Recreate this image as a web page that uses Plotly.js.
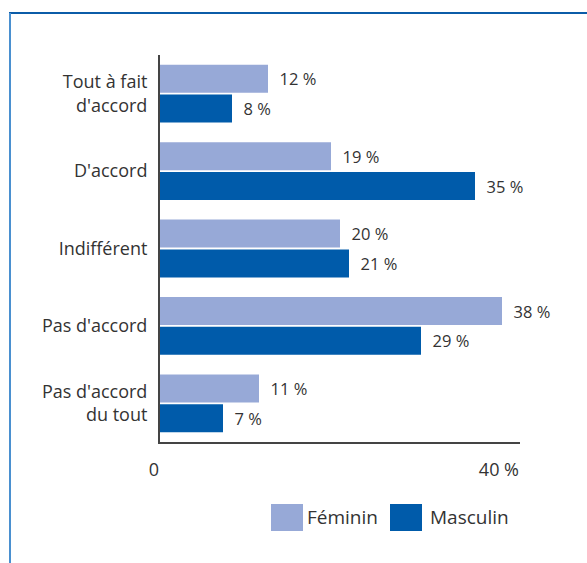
<!DOCTYPE html>
<html><head><meta charset="utf-8">
<script src="https://cdn.plot.ly/plotly-3.0.1.min.js"></script>
<style>html,body{margin:0;padding:0;background:#fff;}</style>
</head><body><div id="chart" style="width:587px;height:563px;"></div>
<script>
const categories = ["Tout à fait<br>d'accord", "D'accord", "Indifférent", "Pas d'accord", "Pas d'accord<br>du tout"];
const seriesNames = ["Féminin", "Masculin"];
const feminin = [12, 19, 20, 38, 11];
const masculin = [8, 35, 21, 29, 7];
const tickVals = [0, 40];
const tickText = ["0", "40 %"];

const colors = ["#97A9D7", "#005BAA"];
const FONT = "Open Sans, sans-serif";
const TXT = "#333333";
const W = 587, H = 563;
const M = {l: 160, r: 67, t: 55, b: 121};
const PW = W - M.l - M.r, PH = H - M.t - M.b;
const px = p => (p - M.l) / PW;
const py = p => (H - M.b - p) / PH;

const mk = (vals, i) => ({
  type: 'bar', orientation: 'h', name: seriesNames[i],
  y: categories, x: vals,
  marker: {color: colors[i], line: {width: 0}},
  text: vals.map(v => '\u00a0\u00a0' + v + ' %'),
  textposition: 'outside', cliponaxis: false,
  textfont: {family: FONT, size: 16.5, color: TXT},
  hoverinfo: 'none'
});

const data = [mk(feminin, 0), mk(masculin, 1)];

const shapes = [
  {type: 'line', xref: 'paper', yref: 'paper', x0: px(9), x1: px(600), y0: py(13), y1: py(13), line: {color: '#0B5CA8', width: 2}},
  {type: 'line', xref: 'paper', yref: 'paper', x0: px(10), x1: px(10), y0: py(13), y1: py(600), line: {color: '#4A90D0', width: 2}},
  {type: 'rect', xref: 'paper', yref: 'paper', x0: px(271), x1: px(303), y0: py(504), y1: py(531), fillcolor: colors[0], line: {width: 0}},
  {type: 'rect', xref: 'paper', yref: 'paper', x0: px(390), x1: px(422), y0: py(504), y1: py(531), fillcolor: colors[1], line: {width: 0}}
];
const annotations = [
  {xref: 'paper', yref: 'paper', x: px(305), y: py(517), xanchor: 'left', yanchor: 'middle', text: seriesNames[0], showarrow: false, font: {family: FONT, size: 19, color: TXT}},
  {xref: 'paper', yref: 'paper', x: px(428), y: py(517), xanchor: 'left', yanchor: 'middle', text: seriesNames[1], showarrow: false, font: {family: FONT, size: 19, color: TXT}}
];

const layout = {
  width: W, height: H, margin: M,
  paper_bgcolor: '#fff', plot_bgcolor: '#fff',
  showlegend: false,
  barmode: 'group', bargap: 0.23, bargroupgap: 0.06,
  font: {family: FONT, color: TXT},
  xaxis: {range: [0, 40], tickvals: tickVals, ticktext: tickText, ticklabelposition: 'outside left',
          showline: true, linecolor: '#444', linewidth: 2, showgrid: false, zeroline: false, ticks: '',
          tickfont: {family: FONT, size: 18, color: TXT}, ticklabelstandoff: 10, fixedrange: true},
  yaxis: {type: 'category', autorange: 'reversed', showline: true, linecolor: '#444', linewidth: 2,
          showgrid: false, zeroline: false, ticks: '', ticklabelstandoff: 7,
          tickfont: {family: FONT, size: 18, color: TXT}, fixedrange: true},
  shapes: shapes, annotations: annotations
};

Plotly.newPlot('chart', data, layout, {displayModeBar: false, staticPlot: true});
</script></body></html>
